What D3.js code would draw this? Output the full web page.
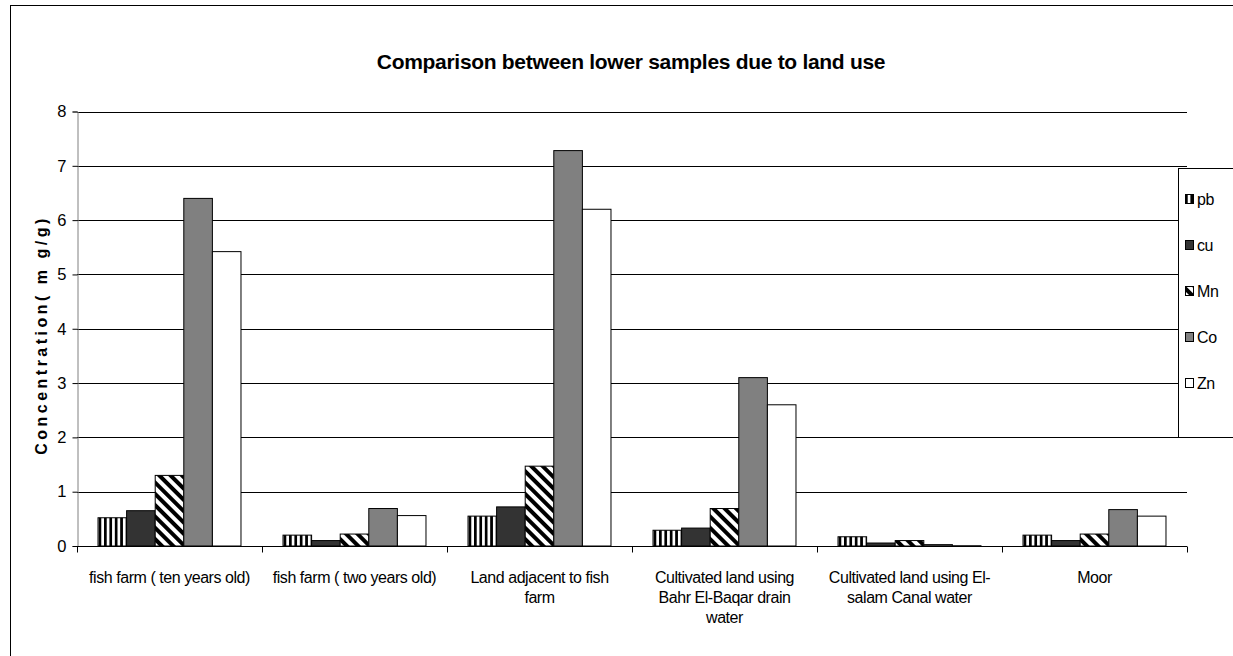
<!DOCTYPE html>
<html>
<head>
<meta charset="utf-8">
<script src="https://cdn.jsdelivr.net/npm/d3@7"></script>
<style>
  html, body { margin: 0; padding: 0; background: #fff; }
  svg { display: block; font-family: "Liberation Sans", Arial, sans-serif; }
</style>
</head>
<body>
<svg id="chart" width="1233" height="656"></svg>
<script>
// ---- data ----
const categories = [
  "fish farm ( ten years old)",
  "fish farm ( two years old)",
  "Land adjacent to fish farm",
  "Cultivated land using Bahr El-Baqar drain water",
  "Cultivated land using El-salam Canal water",
  "Moor"
];
const categoryLines = [
  ["fish farm ( ten years old)"],
  ["fish farm ( two years old)"],
  ["Land adjacent to fish", "farm"],
  ["Cultivated land using", "Bahr El-Baqar drain", "water"],
  ["Cultivated land using El-", "salam Canal water"],
  ["Moor"]
];
const seriesNames = ["pb", "cu", "Mn", "Co", "Zn"];
const pb = [0.52, 0.20, 0.55, 0.29, 0.17, 0.20];
const cu = [0.65, 0.10, 0.72, 0.33, 0.055, 0.10];
const mn = [1.30, 0.22, 1.47, 0.69, 0.10, 0.22];
const co = [6.40, 0.69, 7.28, 3.10, 0.025, 0.67];
const zn = [5.42, 0.56, 6.20, 2.60, 0.005, 0.55];
const seriesValues = [pb, cu, mn, co, zn];
const yTicks = [0, 1, 2, 3, 4, 5, 6, 7, 8];
const title = "Comparison between lower samples due to land use";
const yTitle = "Concentration( m g/g)";

// ---- drawing ----
const svg = d3.select("#chart");
const defs = svg.append("defs");

// vertical stripes (pb)
const pv = defs.append("pattern").attr("id", "pat-pb")
  .attr("patternUnits", "userSpaceOnUse").attr("width", 5.4).attr("height", 10);
pv.append("rect").attr("width", 5.4).attr("height", 10).attr("fill", "#fff");
pv.append("rect").attr("width", 2.7).attr("height", 10).attr("fill", "#000");

// diagonal stripes (Mn)
const pd = defs.append("pattern").attr("id", "pat-mn")
  .attr("patternUnits", "userSpaceOnUse").attr("width", 8).attr("height", 8)
  .attr("patternTransform", "rotate(-45)");
pd.append("rect").attr("width", 8).attr("height", 8).attr("fill", "#fff");
pd.append("rect").attr("width", 4).attr("height", 8).attr("fill", "#000");

const fills = ["url(#pat-pb)", "#333333", "url(#pat-mn)", "#808080", "#ffffff"];

const plotLeft = 77, plotRight = 1187, plotTop = 111.5, plotBottom = 546;

const x0 = d3.scaleBand().domain(categories).range([plotLeft, plotRight]).paddingInner(0).paddingOuter(0);
const x1 = d3.scaleBand().domain(seriesNames).range([0, x0.bandwidth()]).paddingInner(0).paddingOuter(0.735);
const y = d3.scaleLinear().domain([0, 8]).range([plotBottom, plotTop]);

// outer frame
svg.append("line").attr("x1", 10.5).attr("x2", 10.5).attr("y1", 5).attr("y2", 656).attr("stroke", "#000");
svg.append("line").attr("x1", 10).attr("x2", 1233).attr("y1", 5.5).attr("y2", 5.5).attr("stroke", "#000");

// gridlines
svg.append("g").selectAll("line").data(yTicks.filter(d => d > 0)).join("line")
  .attr("x1", plotLeft).attr("x2", plotRight)
  .attr("y1", d => Math.round(y(d)) + 0.5).attr("y2", d => Math.round(y(d)) + 0.5)
  .attr("stroke", "#000").attr("stroke-width", 1);

// bars
const groups = svg.append("g").selectAll("g").data(categories).join("g")
  .attr("transform", d => `translate(${x0(d)},0)`);
groups.selectAll("rect")
  .data((c, i) => seriesNames.map((s, j) => ({ s, j, v: seriesValues[j][i] })))
  .join("rect")
  .attr("x", d => x1(d.s))
  .attr("width", x1.bandwidth())
  .attr("y", d => y(d.v))
  .attr("height", d => plotBottom - y(d.v))
  .attr("fill", d => fills[d.j])
  .attr("stroke", "#000").attr("stroke-width", 1);

// y axis
const yAxis = svg.append("g").attr("transform", `translate(${plotLeft + 0.5},0)`)
  .call(d3.axisLeft(y).tickValues(yTicks).tickFormat(d3.format("d")).tickSize(5).tickPadding(6));
yAxis.select(".domain").attr("stroke", "#808080");
yAxis.selectAll(".tick line").attr("stroke", "#000");
yAxis.selectAll(".tick text").attr("font-size", 16.5).attr("fill", "#000")
  .attr("font-family", "Liberation Sans, Arial, sans-serif");

// x axis
const xAxis = svg.append("g").attr("transform", `translate(0,${plotBottom + 0.5})`);
xAxis.append("line").attr("x1", plotLeft).attr("x2", plotRight).attr("stroke", "#000");
const xt = d3.range(categories.length + 1).map(i => plotLeft + i * x0.step());
xAxis.selectAll("line.tk").data(xt).join("line").attr("class", "tk")
  .attr("x1", d => Math.round(d) + 0.5).attr("x2", d => Math.round(d) + 0.5)
  .attr("y1", 0).attr("y2", 6).attr("stroke", "#000");

// category labels
const lab = svg.append("g").selectAll("text").data(categories).join("text")
  .attr("x", d => x0(d) + x0.bandwidth() / 2)
  .attr("y", 583)
  .attr("text-anchor", "middle")
  .attr("font-size", 16)
  .attr("letter-spacing", -0.45)
  .attr("fill", "#000");
lab.each(function(d, i) {
  d3.select(this).selectAll("tspan").data(categoryLines[i]).join("tspan")
    .attr("x", x0(d) + x0.bandwidth() / 2)
    .attr("dy", (t, k) => k === 0 ? 0 : 20)
    .text(t => t);
});

// title
svg.append("text").attr("x", 631).attr("y", 69).attr("text-anchor", "middle")
  .attr("font-size", 21).attr("font-weight", "bold").attr("letter-spacing", -0.3).text(title);

// y title
svg.append("text").attr("transform", "translate(47,335) rotate(-90)")
  .attr("text-anchor", "middle").attr("font-size", 16).attr("font-weight", "bold")
  .attr("letter-spacing", 3.5).text(yTitle);

// legend
const lg = svg.append("g");
lg.append("rect").attr("x", 1178.5).attr("y", 168.5).attr("width", 80).attr("height", 269)
  .attr("fill", "#fff").attr("stroke", "#000");
const li = lg.selectAll("g.it").data(seriesNames).join("g").attr("class", "it")
  .attr("transform", (d, i) => `translate(1185,${199 + i * 46})`);
li.append("rect").attr("x", 0.5).attr("y", -4.5).attr("width", 8).attr("height", 9)
  .attr("fill", (d, i) => fills[i]).attr("stroke", "#000");
li.append("text").attr("x", 12).attr("y", 6).attr("font-size", 16).attr("letter-spacing", -0.4).text(d => d);
</script>
</body>
</html>
